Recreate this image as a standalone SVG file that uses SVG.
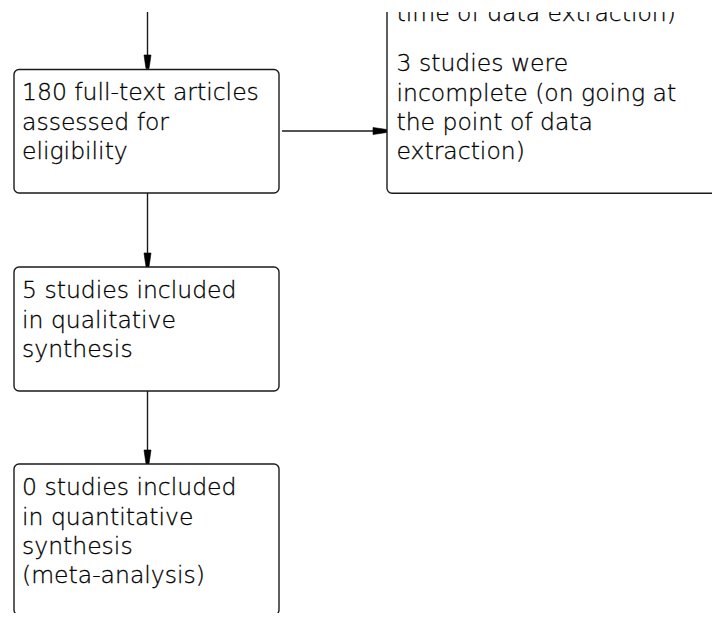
<svg xmlns="http://www.w3.org/2000/svg" width="712" height="617" viewBox="0 0 712 617">
  <defs>
    <style>
      .box { fill: #ffffff; stroke: #1a1a1a; stroke-width: 1.4; }
      .conn { stroke: #1a1a1a; stroke-width: 1.4; fill: none; }
      .head { fill: #000000; stroke: #000000; stroke-width: 0.6; }
      text { font-family: "DejaVu Sans", "Liberation Sans", sans-serif; font-weight: 200; font-size: 23.5px; fill: #000000; stroke: #000000; stroke-width: 0.3; }
    </style>
    <clipPath id="view">
      <rect x="0" y="12" width="712" height="601"/>
    </clipPath>
  </defs>
  <rect width="712" height="617" fill="#ffffff"/>
  <g clip-path="url(#view)">
    <g id="excluded-box">
      <rect class="box" x="387" y="-200" width="400" height="393.3" rx="5" ry="5"/>
      <text x="396.5" y="21">time of data extraction)</text>
      <text x="396.5" y="71">3 studies were</text>
      <text x="396.5" y="100.5">incomplete (on going at</text>
      <text x="396.5" y="130">the point of data</text>
      <text x="396.5" y="159">extraction)</text>
    </g>
    <g id="fulltext-box">
      <rect class="box" x="14" y="69.5" width="265" height="123.5" rx="5" ry="5"/>
      <text x="22" y="100">180 full-text articles</text>
      <text x="22" y="129.5">assessed for</text>
      <text x="22" y="158.5">eligibility</text>
    </g>
    <g id="qualitative-box">
      <rect class="box" x="14" y="267" width="265" height="124" rx="5" ry="5"/>
      <text x="22" y="298">5 studies included</text>
      <text x="22" y="327.5">in qualitative</text>
      <text x="22" y="356.5">synthesis</text>
    </g>
    <g id="quantitative-box">
      <rect class="box" x="14" y="464" width="265" height="151" rx="5" ry="5"/>
      <text x="22" y="495">0 studies included</text>
      <text x="22" y="524.5">in quantitative</text>
      <text x="22" y="554">synthesis</text>
      <text x="22" y="583">(meta-analysis)</text>
    </g>
    <g id="connectors">
      <line class="conn" x1="147.5" y1="0" x2="147.5" y2="62"/>
      <path class="head" d="M144,55 L151,55 L150,62 L149,68.5 L146,68.5 L145,62 Z"/>
      <line class="conn" x1="147.5" y1="193" x2="147.5" y2="260"/>
      <path class="head" d="M144,253 L151,253 L150,260 L149,266.5 L146,266.5 L145,260 Z"/>
      <line class="conn" x1="147.5" y1="391" x2="147.5" y2="457"/>
      <path class="head" d="M144,450 L151,450 L150,457 L149,463.5 L146,463.5 L145,457 Z"/>
      <line class="conn" x1="282" y1="131" x2="380" y2="131"/>
      <path class="head" d="M373,127.5 L373,134.5 L380,133.5 L386.5,132.5 L386.5,129.5 L380,128.5 Z"/>
    </g>
  </g>
</svg>
